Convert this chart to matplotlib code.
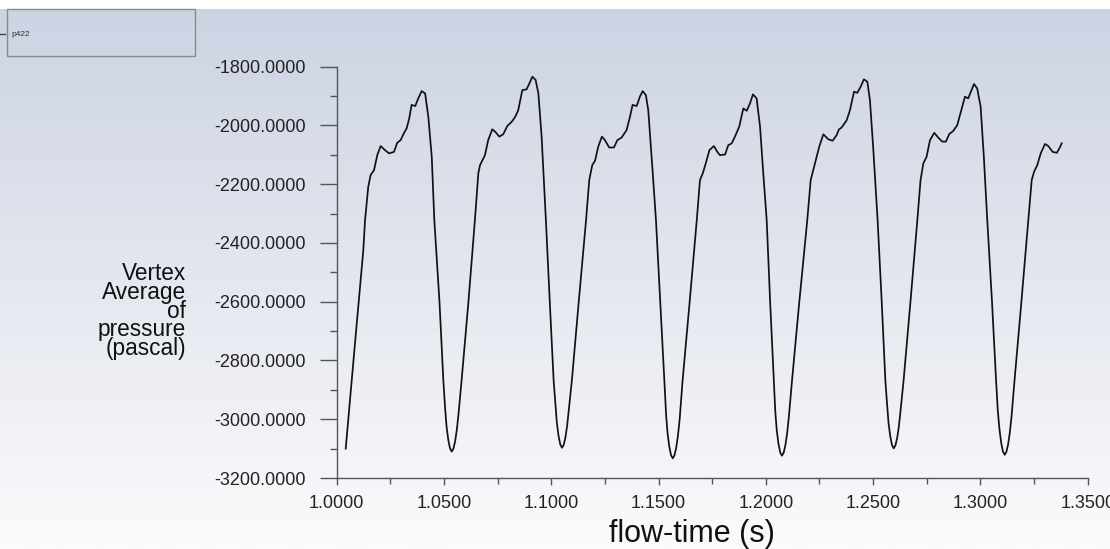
import numpy as np
import matplotlib
matplotlib.use("Agg")
import matplotlib.pyplot as plt
from matplotlib.patches import Rectangle
from matplotlib.ticker import MultipleLocator, FormatStrFormatter

plt.rcParams["font.family"] = ["Liberation Sans", "DejaVu Sans"]

# Monitor history: vertex-average pressure at p422 (flow-time in s, pressure in Pa)
flow_time = [
    # first rise and peak
    1.0042, 1.0083, 1.0124, 1.0132, 1.0147, 1.0158, 1.0174, 1.0189, 1.0205, 1.0225,
    1.0244, 1.0267, 1.0282, 1.0298, 1.0314, 1.0326, 1.0338, 1.0349, 1.0366, 1.0380,
    1.0396, 1.0412, 1.0427, 1.0443, 1.0455,
    # trough
    1.0479, 1.0497, 1.0505, 1.0512, 1.0520, 1.0528, 1.0536, 1.0544, 1.0552, 1.0560,
    1.0568, 1.0582, 1.0614, 1.0644,
    # cycle
    1.0660, 1.0668, 1.0691, 1.0706, 1.0725, 1.0738, 1.0758, 1.0776, 1.0795, 1.0816,
    1.0831, 1.0846, 1.0865, 1.0885, 1.0898, 1.0912, 1.0927, 1.0940, 1.0955, 1.0975,
    # trough
    1.0993, 1.1011, 1.1019, 1.1026, 1.1034, 1.1042, 1.1050, 1.1058, 1.1066, 1.1074,
    1.1082, 1.1096, 1.1128, 1.1162,
    # cycle
    1.1177, 1.1191, 1.1204, 1.1219, 1.1236, 1.1250, 1.1270, 1.1292, 1.1308, 1.1328,
    1.1351, 1.1367, 1.1379, 1.1398, 1.1413, 1.1426, 1.1441, 1.1452, 1.1473, 1.1488,
    # trough
    1.1508, 1.1527, 1.1535, 1.1542, 1.1550, 1.1558, 1.1566, 1.1574, 1.1582, 1.1590,
    1.1598, 1.1612, 1.1645, 1.1678,
    # cycle
    1.1693, 1.1706, 1.1720, 1.1737, 1.1758, 1.1774, 1.1786, 1.1810, 1.1825, 1.1841,
    1.1856, 1.1876, 1.1895, 1.1911, 1.1926, 1.1940, 1.1957, 1.1973, 1.1988, 1.2004,
    # trough
    1.2020, 1.2037, 1.2044, 1.2051, 1.2059, 1.2067, 1.2075, 1.2083, 1.2091, 1.2099,
    1.2107, 1.2122, 1.2156, 1.2193,
    # cycle
    1.2209, 1.2229, 1.2249, 1.2268, 1.2291, 1.2311, 1.2330, 1.2340, 1.2353, 1.2377,
    1.2392, 1.2411, 1.2426, 1.2442, 1.2457, 1.2473, 1.2485, 1.2500, 1.2521,
    # trough
    1.2540, 1.2557, 1.2565, 1.2572, 1.2580, 1.2588, 1.2596, 1.2604, 1.2612, 1.2620,
    1.2628, 1.2642, 1.2674, 1.2706,
    # cycle
    1.2721, 1.2734, 1.2749, 1.2765, 1.2785, 1.2803, 1.2822, 1.2839, 1.2855, 1.2873,
    1.2892, 1.2909, 1.2928, 1.2943, 1.2959, 1.2970, 1.2985, 1.3001, 1.3016, 1.3032,
    # trough
    1.3054, 1.3073, 1.3081, 1.3089, 1.3097, 1.3105, 1.3113, 1.3121, 1.3129, 1.3137,
    1.3145, 1.3159, 1.3191, 1.3223,
    # last partial cycle
    1.3239, 1.3250, 1.3265, 1.3281, 1.3301, 1.3316, 1.3337, 1.3356, 1.3368, 1.3379,
]
pressure = [
    -3100, -2760, -2425, -2323, -2209, -2169, -2152, -2101, -2070, -2084,
    -2095, -2090, -2059, -2050, -2025, -2010, -1976, -1930, -1934, -1908,
    -1883, -1891, -1970, -2107, -2323,
    -2600, -2868, -2960, -3025, -3070, -3099, -3110, -3100, -3075, -3035,
    -2980, -2868, -2600, -2323,
    -2163, -2135, -2101, -2050, -2013, -2021, -2038, -2030, -2002, -1987,
    -1972, -1948, -1880, -1877, -1857, -1834, -1845, -1891, -2038, -2323,
    -2600, -2868, -2947, -3012, -3057, -3086, -3097, -3087, -3062, -3022,
    -2967, -2868, -2600, -2323,
    -2186, -2135, -2120, -2072, -2038, -2050, -2075, -2075, -2050, -2041,
    -2016, -1970, -1930, -1934, -1902, -1883, -1897, -1948, -2163, -2323,
    -2600, -2868, -2983, -3048, -3093, -3122, -3133, -3123, -3098, -3058,
    -3003, -2868, -2600, -2323,
    -2186, -2163, -2129, -2084, -2070, -2090, -2101, -2099, -2067, -2061,
    -2038, -2004, -1942, -1950, -1925, -1894, -1908, -2004, -2163, -2323,
    -2600, -2868, -2974, -3039, -3084, -3113, -3124, -3114, -3089, -3049,
    -2994, -2868, -2600, -2323,
    -2186, -2129, -2072, -2030, -2047, -2052, -2033, -2014, -2007, -1982,
    -1948, -1885, -1889, -1868, -1843, -1851, -1913, -2072, -2323,
    -2600, -2868, -2949, -3014, -3059, -3088, -3099, -3089, -3064, -3024,
    -2969, -2868, -2600, -2323,
    -2186, -2129, -2107, -2050, -2025, -2041, -2055, -2055, -2029, -2019,
    -1999, -1953, -1902, -1908, -1879, -1859, -1874, -1936, -2107, -2323,
    -2600, -2868, -2971, -3036, -3081, -3110, -3121, -3111, -3086, -3046,
    -2991, -2868, -2600, -2323,
    -2186, -2158, -2135, -2095, -2063, -2070, -2090, -2093, -2078, -2061,
]

x_limits = (1.0, 1.35)
y_limits = (-3200, -1800)
series_name = "p422"
y_title = "Vertex\nAverage\nof\npressure\n(pascal)"
x_title = "flow-time (s)"

W, H = 1110, 549
fig = plt.figure(figsize=(W / 100, H / 100), dpi=100)
fig.patch.set_facecolor("white")

# Vertical gradient backdrop (bluish grey at the top fading to white)
bg = fig.add_axes([0, 0, 1, (H - 9) / H], zorder=-10)
top = np.array([204, 211, 226]) / 255.0
bottom = np.array([251, 251, 252]) / 255.0
t = np.linspace(0, 1, 256)[:, None]
grad = top[None, :] * (1 - t) + bottom[None, :] * t
bg.imshow(grad[:, None, :], aspect="auto", extent=[0, 1, 0, 1], origin="upper")
bg.set_axis_off()

left, right = 336.7 / W, 1087.7 / W
bottom_px, top_px = 478.0, 66.7
ax = fig.add_axes([left, (H - bottom_px) / H, right - left, (bottom_px - top_px) / H])
ax.patch.set_alpha(0)

ax.plot(flow_time, pressure, color="#111111", lw=1.25, solid_joinstyle="round")

ax.set_xlim(*x_limits)
ax.set_ylim(*y_limits)
for s in ("top", "right"):
    ax.spines[s].set_visible(False)
for s in ("left", "bottom"):
    ax.spines[s].set_color("#555555")
    ax.spines[s].set_linewidth(1.0)

ax.xaxis.set_major_locator(MultipleLocator(0.05))
ax.xaxis.set_minor_locator(MultipleLocator(0.025))
ax.yaxis.set_major_locator(MultipleLocator(200))
ax.yaxis.set_minor_locator(MultipleLocator(100))
ax.xaxis.set_major_formatter(FormatStrFormatter("%.4f"))
ax.yaxis.set_major_formatter(FormatStrFormatter("%.4f"))

ax.tick_params(axis="y", which="major", direction="out", length=12, width=1,
               color="#555555", labelsize=13, labelcolor="#222222", pad=10)
ax.tick_params(axis="y", which="minor", direction="out", length=5, width=1,
               color="#555555")
ax.tick_params(axis="x", which="major", direction="out", length=5, width=1,
               color="#555555", labelsize=13, labelcolor="#222222", pad=7)
ax.tick_params(axis="x", which="minor", direction="out", length=4, width=1,
               color="#555555")

fig.text(186 / W, 1 - 311 / H, y_title, ha="right", va="center",
         fontsize=16.3, linespacing=0.76, color="#111111")
fig.text(692 / W, 1 - 534 / H, x_title, ha="center", va="center",
         fontsize=22, color="#111111")

# Legend box in the upper-left corner
fig.add_artist(Rectangle((7 / W, 1 - 56 / H), 188 / W, 47 / H,
                         transform=fig.transFigure, facecolor="none",
                         edgecolor="#8a8a8a", lw=1.0))
fig.add_artist(plt.Line2D([0 / W, 5 / W], [1 - 34 / H, 1 - 34 / H],
                          transform=fig.transFigure, color="#444444", lw=1.0))
fig.text(11 / W, 1 - 34 / H, series_name, ha="left", va="center",
         fontsize=6, color="#333333")

fig.savefig("out.png", dpi=100)
